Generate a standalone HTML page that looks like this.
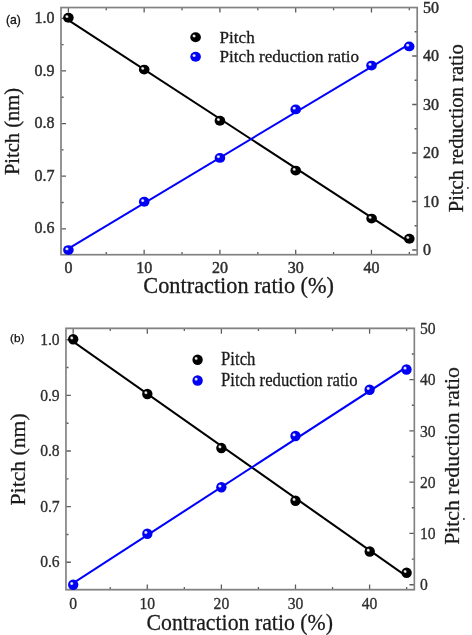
<!DOCTYPE html>
<html><head><meta charset="utf-8"><style>
html,body{margin:0;padding:0;background:#fff;}
body{width:472px;height:635px;overflow:hidden;}
svg{display:block;filter:blur(0.35px);}
</style></head><body>
<svg width="472" height="635" viewBox="0 0 472 635">
<defs><radialGradient id="hka"><stop offset="0" stop-color="#fff"/><stop offset="0.4" stop-color="#eee" stop-opacity="0.95"/><stop offset="1" stop-color="#888" stop-opacity="0"/></radialGradient>
<radialGradient id="hba"><stop offset="0" stop-color="#fff"/><stop offset="0.45" stop-color="#eef" stop-opacity="0.9"/><stop offset="1" stop-color="#99f" stop-opacity="0"/></radialGradient>
<radialGradient id="hkb"><stop offset="0" stop-color="#fff"/><stop offset="0.4" stop-color="#eee" stop-opacity="0.95"/><stop offset="1" stop-color="#888" stop-opacity="0"/></radialGradient>
<radialGradient id="hbb"><stop offset="0" stop-color="#fff"/><stop offset="0.45" stop-color="#eef" stop-opacity="0.9"/><stop offset="1" stop-color="#99f" stop-opacity="0"/></radialGradient></defs>
<rect width="472" height="635" fill="#fff"/>
<g>
<path d="M68.38 254.7V249.7M68.38 7.54V12.54M106.26 254.7V252.1M106.26 7.54V10.14M144.15 254.7V249.7M144.15 7.54V12.54M182.03 254.7V252.1M182.03 7.54V10.14M219.92 254.7V249.7M219.92 7.54V12.54M257.81 254.7V252.1M257.81 7.54V10.14M295.69 254.7V249.7M295.69 7.54V12.54M333.57 254.7V252.1M333.57 7.54V10.14M371.46 254.7V249.7M371.46 7.54V12.54M409.34 254.7V252.1M409.34 7.54V10.14M61 228.82H66M61 202.5H63.6M61 176.19H66M61 149.88H63.6M61 123.56H66M61 97.25H63.6M61 70.93H66M61 44.62H63.6M61 18.3H66M417.2 250H412.2M417.2 225.75H414.6M417.2 201.5H412.2M417.2 177.25H414.6M417.2 153H412.2M417.2 128.75H414.6M417.2 104.5H412.2M417.2 80.25H414.6M417.2 56H412.2M417.2 31.75H414.6" stroke="#5c5c5c" stroke-width="1.3" fill="none"/>
<rect x="61" y="7.54" width="356.2" height="247.16" fill="none" stroke="#828282" stroke-width="1.7"/>
<line x1="68.38" y1="20.11" x2="409.34" y2="242.18" stroke="#000" stroke-width="2.0"/>
<line x1="68.38" y1="248.57" x2="409.34" y2="44.08" stroke="#00f" stroke-width="2.0"/>
<ellipse cx="68.4" cy="17.8" rx="5.3" ry="4.95" fill="#000"/><ellipse cx="66.9" cy="16.6" rx="2.2" ry="2.0" fill="url(#hka)" transform="rotate(30 66.9 16.6)"/>
<ellipse cx="144.2" cy="69.6" rx="5.3" ry="4.95" fill="#000"/><ellipse cx="142.7" cy="68.4" rx="2.2" ry="2.0" fill="url(#hka)" transform="rotate(30 142.7 68.4)"/>
<ellipse cx="219.9" cy="120.8" rx="5.3" ry="4.95" fill="#000"/><ellipse cx="218.4" cy="119.6" rx="2.2" ry="2.0" fill="url(#hka)" transform="rotate(30 218.4 119.6)"/>
<ellipse cx="295.7" cy="170.6" rx="5.3" ry="4.95" fill="#000"/><ellipse cx="294.2" cy="169.4" rx="2.2" ry="2.0" fill="url(#hka)" transform="rotate(30 294.2 169.4)"/>
<ellipse cx="371.6" cy="218.6" rx="5.3" ry="4.95" fill="#000"/><ellipse cx="370.1" cy="217.4" rx="2.2" ry="2.0" fill="url(#hka)" transform="rotate(30 370.1 217.4)"/>
<ellipse cx="409.3" cy="238.7" rx="5.3" ry="4.95" fill="#000"/><ellipse cx="407.8" cy="237.5" rx="2.2" ry="2.0" fill="url(#hka)" transform="rotate(30 407.8 237.5)"/>
<ellipse cx="68.4" cy="250.1" rx="5.3" ry="4.95" fill="#0000f5"/><ellipse cx="66.9" cy="248.9" rx="2.2" ry="2.0" fill="url(#hba)" transform="rotate(0 66.9 248.9)"/>
<ellipse cx="144.2" cy="201.8" rx="5.3" ry="4.95" fill="#0000f5"/><ellipse cx="142.7" cy="200.6" rx="2.2" ry="2.0" fill="url(#hba)" transform="rotate(0 142.7 200.6)"/>
<ellipse cx="219.9" cy="157.9" rx="5.3" ry="4.95" fill="#0000f5"/><ellipse cx="218.4" cy="156.7" rx="2.2" ry="2.0" fill="url(#hba)" transform="rotate(0 218.4 156.7)"/>
<ellipse cx="295.7" cy="109.4" rx="5.3" ry="4.95" fill="#0000f5"/><ellipse cx="294.2" cy="108.2" rx="2.2" ry="2.0" fill="url(#hba)" transform="rotate(0 294.2 108.2)"/>
<ellipse cx="371.5" cy="65.6" rx="5.3" ry="4.95" fill="#0000f5"/><ellipse cx="370" cy="64.4" rx="2.2" ry="2.0" fill="url(#hba)" transform="rotate(0 370 64.4)"/>
<ellipse cx="409.2" cy="46.4" rx="5.3" ry="4.95" fill="#0000f5"/><ellipse cx="407.7" cy="45.2" rx="2.2" ry="2.0" fill="url(#hba)" transform="rotate(0 407.7 45.2)"/>
<ellipse cx="195.6" cy="37.2" rx="5.3" ry="4.95" fill="#000"/><ellipse cx="194.1" cy="36" rx="2.2" ry="2.0" fill="url(#hka)" transform="rotate(30 194.1 36)"/>
<ellipse cx="195.6" cy="56.8" rx="5.3" ry="4.95" fill="#0000f5"/><ellipse cx="194.1" cy="55.6" rx="2.2" ry="2.0" fill="url(#hba)" transform="rotate(0 194.1 55.6)"/>
<g font-family="Liberation Serif" font-size="17.1" fill="#1a1a1a" stroke="#1a1a1a" stroke-width="0.3">
<text x="219.6" y="42.6">Pitch</text>
<text x="219.6" y="62.3">Pitch reduction ratio</text>
</g>
<g font-family="Liberation Serif" font-size="16.0" fill="#2e2e2e" stroke="#2e2e2e" stroke-width="0.45">
<text x="54.6" y="23.04" text-anchor="end">1.0</text>
<text x="54.6" y="75.84" text-anchor="end">0.9</text>
<text x="54.6" y="128.24" text-anchor="end">0.8</text>
<text x="54.6" y="180.99" text-anchor="end">0.7</text>
<text x="54.6" y="233.44" text-anchor="end">0.6</text>
<text x="68.38" y="272.6" text-anchor="middle">0</text>
<text x="144.15" y="272.6" text-anchor="middle">10</text>
<text x="219.92" y="272.6" text-anchor="middle">20</text>
<text x="295.69" y="272.6" text-anchor="middle">30</text>
<text x="371.46" y="272.6" text-anchor="middle">40</text>
<text x="423" y="255.44">0</text>
<text x="423" y="206.94">10</text>
<text x="423" y="158.44">20</text>
<text x="423" y="109.94">30</text>
<text x="423" y="61.44">40</text>
<text x="423" y="12.94">50</text>
</g>
<g font-family="Liberation Serif" fill="#1a1a1a" stroke="#1a1a1a" stroke-width="0.3">
<text font-size="20.5" text-anchor="middle" transform="translate(19 131.5) rotate(-90)">Pitch (nm)</text>
<text font-size="20.6" transform="translate(462.8 212.3) rotate(-90)">Pitch reduction ratio</text>
<text font-size="22.3" x="238.7" y="293.1" text-anchor="middle">Contraction ratio (%)</text>
</g>
<circle cx="467.9" cy="187.9" r="0.9" fill="#222"/>
</g>
<g transform="translate(73.2 328.35) scale(0.978 1.0573) translate(-68.4 -7.54)">
<path d="M68.38 254.7V249.7M68.38 7.54V12.54M106.26 254.7V252.1M106.26 7.54V10.14M144.15 254.7V249.7M144.15 7.54V12.54M182.03 254.7V252.1M182.03 7.54V10.14M219.92 254.7V249.7M219.92 7.54V12.54M257.81 254.7V252.1M257.81 7.54V10.14M295.69 254.7V249.7M295.69 7.54V12.54M333.57 254.7V252.1M333.57 7.54V10.14M371.46 254.7V249.7M371.46 7.54V12.54M409.34 254.7V252.1M409.34 7.54V10.14M61 228.82H66M61 202.5H63.6M61 176.19H66M61 149.88H63.6M61 123.56H66M61 97.25H63.6M61 70.93H66M61 44.62H63.6M61 18.3H66M417.2 250H412.2M417.2 225.75H414.6M417.2 201.5H412.2M417.2 177.25H414.6M417.2 153H412.2M417.2 128.75H414.6M417.2 104.5H412.2M417.2 80.25H414.6M417.2 56H412.2M417.2 31.75H414.6" stroke="#5c5c5c" stroke-width="1.3" fill="none"/>
<rect x="61" y="7.54" width="356.2" height="247.16" fill="none" stroke="#828282" stroke-width="1.7"/>
<line x1="68.38" y1="20.11" x2="409.34" y2="242.18" stroke="#000" stroke-width="2.0"/>
<line x1="68.38" y1="248.57" x2="409.34" y2="44.08" stroke="#00f" stroke-width="2.0"/>
<ellipse cx="68.4" cy="17.8" rx="5.3" ry="4.95" fill="#000"/><ellipse cx="66.9" cy="16.6" rx="2.2" ry="2.0" fill="url(#hkb)" transform="rotate(30 66.9 16.6)"/>
<ellipse cx="144.2" cy="69.6" rx="5.3" ry="4.95" fill="#000"/><ellipse cx="142.7" cy="68.4" rx="2.2" ry="2.0" fill="url(#hkb)" transform="rotate(30 142.7 68.4)"/>
<ellipse cx="219.9" cy="120.8" rx="5.3" ry="4.95" fill="#000"/><ellipse cx="218.4" cy="119.6" rx="2.2" ry="2.0" fill="url(#hkb)" transform="rotate(30 218.4 119.6)"/>
<ellipse cx="295.7" cy="170.6" rx="5.3" ry="4.95" fill="#000"/><ellipse cx="294.2" cy="169.4" rx="2.2" ry="2.0" fill="url(#hkb)" transform="rotate(30 294.2 169.4)"/>
<ellipse cx="371.6" cy="218.6" rx="5.3" ry="4.95" fill="#000"/><ellipse cx="370.1" cy="217.4" rx="2.2" ry="2.0" fill="url(#hkb)" transform="rotate(30 370.1 217.4)"/>
<ellipse cx="409.3" cy="238.7" rx="5.3" ry="4.95" fill="#000"/><ellipse cx="407.8" cy="237.5" rx="2.2" ry="2.0" fill="url(#hkb)" transform="rotate(30 407.8 237.5)"/>
<ellipse cx="68.4" cy="250.1" rx="5.3" ry="4.95" fill="#0000f5"/><ellipse cx="66.9" cy="248.9" rx="2.2" ry="2.0" fill="url(#hbb)" transform="rotate(0 66.9 248.9)"/>
<ellipse cx="144.2" cy="201.8" rx="5.3" ry="4.95" fill="#0000f5"/><ellipse cx="142.7" cy="200.6" rx="2.2" ry="2.0" fill="url(#hbb)" transform="rotate(0 142.7 200.6)"/>
<ellipse cx="219.9" cy="157.9" rx="5.3" ry="4.95" fill="#0000f5"/><ellipse cx="218.4" cy="156.7" rx="2.2" ry="2.0" fill="url(#hbb)" transform="rotate(0 218.4 156.7)"/>
<ellipse cx="295.7" cy="109.4" rx="5.3" ry="4.95" fill="#0000f5"/><ellipse cx="294.2" cy="108.2" rx="2.2" ry="2.0" fill="url(#hbb)" transform="rotate(0 294.2 108.2)"/>
<ellipse cx="371.5" cy="65.6" rx="5.3" ry="4.95" fill="#0000f5"/><ellipse cx="370" cy="64.4" rx="2.2" ry="2.0" fill="url(#hbb)" transform="rotate(0 370 64.4)"/>
<ellipse cx="409.2" cy="46.4" rx="5.3" ry="4.95" fill="#0000f5"/><ellipse cx="407.7" cy="45.2" rx="2.2" ry="2.0" fill="url(#hbb)" transform="rotate(0 407.7 45.2)"/>
<ellipse cx="195.6" cy="37.2" rx="5.3" ry="4.95" fill="#000"/><ellipse cx="194.1" cy="36" rx="2.2" ry="2.0" fill="url(#hkb)" transform="rotate(30 194.1 36)"/>
<ellipse cx="195.6" cy="56.8" rx="5.3" ry="4.95" fill="#0000f5"/><ellipse cx="194.1" cy="55.6" rx="2.2" ry="2.0" fill="url(#hbb)" transform="rotate(0 194.1 55.6)"/>
<g font-family="Liberation Serif" font-size="17.1" fill="#1a1a1a" stroke="#1a1a1a" stroke-width="0.25">
<text x="219.6" y="42.6">Pitch</text>
<text x="219.6" y="62.3">Pitch reduction ratio</text>
</g>
<g font-family="Liberation Serif" font-size="16.0" fill="#2e2e2e" stroke="#2e2e2e" stroke-width="0.3">
<text x="54.6" y="23.04" text-anchor="end">1.0</text>
<text x="54.6" y="75.84" text-anchor="end">0.9</text>
<text x="54.6" y="128.24" text-anchor="end">0.8</text>
<text x="54.6" y="180.99" text-anchor="end">0.7</text>
<text x="54.6" y="233.44" text-anchor="end">0.6</text>
<text x="68.38" y="272.6" text-anchor="middle">0</text>
<text x="144.15" y="272.6" text-anchor="middle">10</text>
<text x="219.92" y="272.6" text-anchor="middle">20</text>
<text x="295.69" y="272.6" text-anchor="middle">30</text>
<text x="371.46" y="272.6" text-anchor="middle">40</text>
<text x="423" y="255.44">0</text>
<text x="423" y="206.94">10</text>
<text x="423" y="158.44">20</text>
<text x="423" y="109.94">30</text>
<text x="423" y="61.44">40</text>
<text x="423" y="12.94">50</text>
</g>
<g font-family="Liberation Serif" fill="#1a1a1a" stroke="#1a1a1a" stroke-width="0.25">
<text font-size="20.5" text-anchor="middle" transform="translate(19 131.5) rotate(-90)">Pitch (nm)</text>
<text font-size="20.6" transform="translate(462.8 212.3) rotate(-90)">Pitch reduction ratio</text>
<text font-size="22.3" x="238.7" y="293.1" text-anchor="middle">Contraction ratio (%)</text>
</g>
<circle cx="467.9" cy="187.9" r="0.9" fill="#222"/>
</g>
<text x="6.0" y="24.2" font-family="Liberation Sans" font-size="12.2" fill="#111" stroke="#111" stroke-width="0.3">(a)</text>
<text x="10.1" y="342.1" font-family="Liberation Sans" font-size="11.8" fill="#111" stroke="#111" stroke-width="0.25">(b)</text>
</svg>
</body></html>
